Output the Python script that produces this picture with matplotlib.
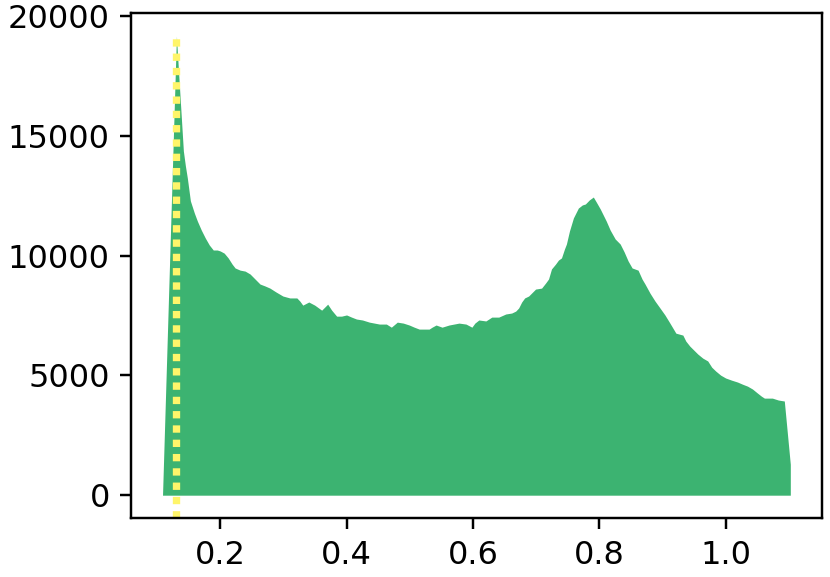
import matplotlib
matplotlib.use('Agg')
import matplotlib.pyplot as plt
import numpy as np

# valeurs
x = [0.1087, 0.1307, 0.1354, 0.1386, 0.1417, 0.1449, 0.1480, 0.1528, 0.1591, 0.1638,
     0.1701, 0.1764, 0.1827, 0.1890, 0.1953, 0.2000, 0.2063, 0.2126, 0.2189, 0.2236,
     0.2315, 0.2394, 0.2472, 0.2551, 0.2630, 0.2709, 0.2787, 0.2882, 0.2992, 0.3102,
     0.3213, 0.3260, 0.3307, 0.3402, 0.3496, 0.3559, 0.3606, 0.3701, 0.3764, 0.3843,
     0.3921, 0.4000, 0.4079, 0.4157, 0.4252, 0.4362, 0.4441, 0.4520, 0.4630, 0.4709,
     0.4803, 0.4898, 0.4992, 0.5071, 0.5150, 0.5228, 0.5307, 0.5354, 0.5417, 0.5512,
     0.5622, 0.5701, 0.5780, 0.5890, 0.5984, 0.6031, 0.6094, 0.6205, 0.6299, 0.6409,
     0.6520, 0.6614, 0.6677, 0.6724, 0.6772, 0.6819, 0.6882, 0.6992, 0.7087, 0.7150,
     0.7197, 0.7244, 0.7307, 0.7354, 0.7402, 0.7449, 0.7480, 0.7528, 0.7591, 0.7669,
     0.7732, 0.7780, 0.7843, 0.7906, 0.7953, 0.8016, 0.8063, 0.8110, 0.8173, 0.8252,
     0.8331, 0.8394, 0.8457, 0.8520, 0.8614, 0.8677, 0.8724, 0.8803, 0.8882, 0.8961,
     0.9039, 0.9118, 0.9213, 0.9323, 0.9370, 0.9433, 0.9559, 0.9638, 0.9717, 0.9780,
     0.9843, 0.9921, 1.0000, 1.0094, 1.0189, 1.0268, 1.0346, 1.0425, 1.0504, 1.0567,
     1.0614, 1.0677, 1.0740, 1.0835, 1.0929, 1.1024]
counts = [0, 19150, 17080, 15700, 14360, 13740, 13230, 12280, 11770, 11440,
          11060, 10730, 10440, 10230, 10230, 10190, 10100, 9900, 9640, 9480,
          9390, 9350, 9230, 9020, 8810, 8730, 8640, 8480, 8310, 8230,
          8230, 8100, 7930, 8060, 7930, 7810, 7720, 7970, 7720, 7470,
          7470, 7520, 7430, 7350, 7310, 7220, 7180, 7140, 7140, 7010,
          7220, 7180, 7100, 7010, 6930, 6930, 6930, 7010, 7100, 7010,
          7100, 7140, 7180, 7140, 7010, 7180, 7310, 7270, 7430, 7430,
          7560, 7600, 7680, 7810, 8060, 8230, 8310, 8600, 8640, 8850,
          9020, 9440, 9640, 9810, 9900, 10270, 10480, 11020, 11570, 11980,
          12110, 12150, 12320, 12440, 12230, 11940, 11690, 11440, 11060, 10690,
          10480, 10150, 9770, 9480, 9390, 9020, 8810, 8430, 8100, 7810,
          7520, 7180, 6760, 6680, 6430, 6220, 5890, 5720, 5600, 5340,
          5180, 5010, 4890, 4800, 4720, 4630, 4550, 4430, 4260, 4130,
          4050, 4050, 4050, 3970, 3930, 1290]
mode_x = 0.1307  # position du pic

fig, ax = plt.subplots(figsize=(830 / 220, 577 / 220), dpi=220)
ax.fill_between(x, counts, color='mediumseagreen', linewidth=0)

ylo = ax.get_ylim()[0]
ax.plot([mode_x, mode_x], [ylo, max(counts)], color='#fff56a', linewidth=2.4,
        dashes=(1, 0.95), scalex=False, scaley=False)
ax.set_ylim(bottom=ylo)

ax.set_xticks([0.2, 0.4, 0.6, 0.8, 1.0])
ax.set_yticks([0, 5000, 10000, 15000, 20000])
ax.tick_params(labelsize=10.5)

plt.subplots_adjust(left=0.158, right=0.990, bottom=0.102, top=0.977)
plt.savefig('out.png')
